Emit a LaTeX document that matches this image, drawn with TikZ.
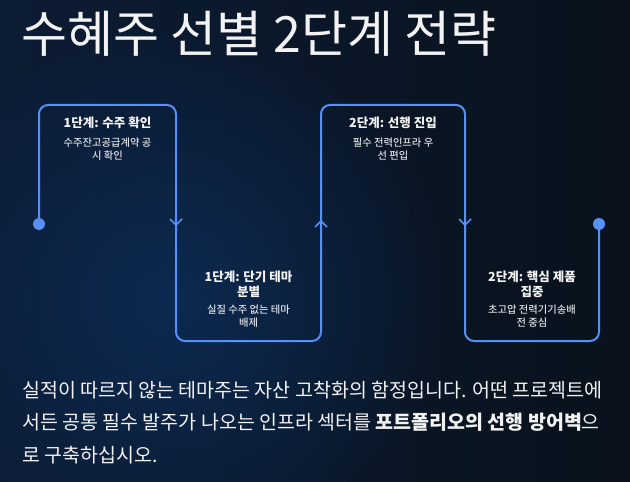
\documentclass[tikz,border=0pt]{standalone}
\usepackage{fontspec}
\setmainfont{Noto Sans CJK KR}
\newfontfamily\notefont{Noto Sans CJK KR Medium}
\usetikzlibrary{fadings}

\definecolor{bgleft}{HTML}{0C1C34}
\definecolor{bgright}{HTML}{09121C}
\definecolor{glow}{HTML}{0D2A52}
\definecolor{flow}{HTML}{5890F5}
\definecolor{txtmain}{HTML}{F2F2F2}
\definecolor{txtsub}{HTML}{DDDFE3}

\tikzfading[name=glowfade, inner color=transparent!0, outer color=transparent!100]

\tikzset{
  steptitle/.style={text=txtmain, font=\bfseries\fontsize{12.5bp}{15bp}\selectfont, align=center, inner sep=0pt},
  stepnote/.style={text=txtsub, font=\notefont\fontsize{10.3bp}{13bp}\selectfont, align=center, inner sep=0pt},
  flowline/.style={draw=flow, line width=2bp, rounded corners=9bp},
  chev/.style={draw=flow, line width=1.5bp},
  flowdot/.style={circle, fill=flow, inner sep=0pt, minimum size=12bp},
}

\begin{document}
\begin{tikzpicture}[x=1bp,y=-1bp]
  \useasboundingbox (0,0) rectangle (630,482);
  \shade[left color=bgleft, right color=bgright] (0,0) rectangle (630,482);
  \fill[glow, path fading=glowfade] (170,300) circle (280bp);

  \node[anchor=base west, text=txtmain, inner sep=0pt,
        font=\fontsize{50bp}{56bp}\selectfont] (title) at (21,53) {수혜주 선별 2단계 전략};

  % the zig-zag path
  \node[flowdot] (start) at (39,224) {};
  \node[flowdot] (end) at (599,224) {};
  \draw[flowline] (start.center) -- (39,105) -- (176,105) -- (176,341) -- (321,341)
    -- (321,105) -- (465,105) -- (465,341) -- (599,341) -- (end.center);
  \foreach \x in {176,465} {
    \draw[chev] (\x-6,219) -- (\x,225) -- (\x+6,219);
  }
  \draw[chev] (315,227) -- (321,221) -- (327,227);

  % step labels
  \foreach \i/\x/\ty/\ny/\ttl/\nt in {
      1/107.5/123/149/{1단계: 수주 확인}/{수주잔고공급계약 공\\시 확인},
      2/248.5/284.5/316.5/{1단계: 단기 테마\\분별}/{실질 수주 없는 테마\\배제},
      3/393/123/149/{2단계: 선행 진입}/{필수 전력인프라 우\\선 편입},
      4/532/284.5/316.5/{2단계: 핵심 제품\\집중}/{초고압 전력기기송배\\전 중심}} {
    \node[steptitle] (t\i) at (\x,\ty) {\ttl};
    \node[stepnote] (n\i) at (\x,\ny) {\nt};
  }

  \node[anchor=base west, text=txtmain, inner sep=0pt, align=left,
        font=\fontsize{19.5bp}{32.5bp}\selectfont] (summary) at (22,462)
    {실적이 따르지 않는 테마주는 자산 고착화의 함정입니다. 어떤 프로젝트에\\
     서든 공통 필수 발주가 나오는 인프라 섹터를 \textbf{포트폴리오의 선행 방어벽}으\\
     로 구축하십시오.};
\end{tikzpicture}
\end{document}
